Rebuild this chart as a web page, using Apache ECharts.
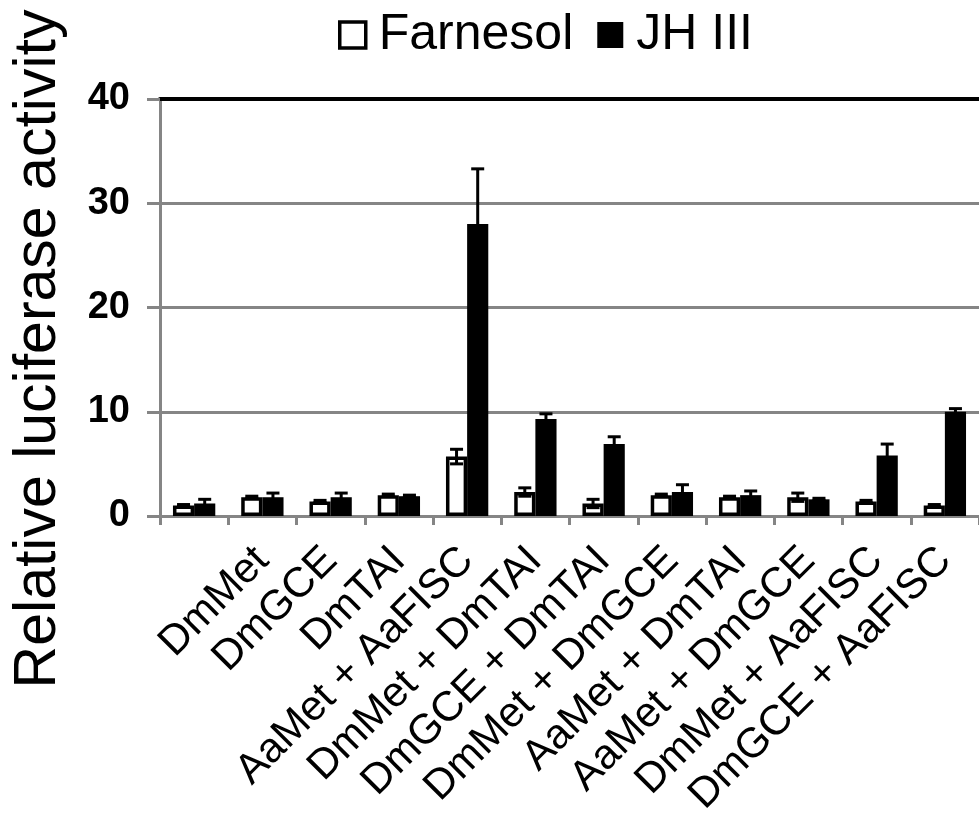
<!DOCTYPE html>
<html>
<head>
<meta charset="utf-8">
<script src="https://cdn.jsdelivr.net/npm/echarts@6/dist/echarts.min.js"></script>
<style>html,body{margin:0;padding:0;background:#fff}#c{width:979px;height:821px}</style>
</head>
<body>
<div id="c"></div>
<script>
const categories = ['', 'DmMet', 'DmGCE', 'DmTAI', 'AaMet + AaFISC', 'DmMet + DmTAI', 'DmGCE + DmTAI', 'DmMet + DmGCE', 'AaMet + DmTAI', 'AaMet + DmGCE', 'DmMet + AaFISC', 'DmGCE + AaFISC'];
const farnesol    = [1.0, 1.8, 1.4, 2.0, 5.7, 2.3, 1.2, 2.0, 1.8, 1.8, 1.4, 1.0];
const farnesolErr = [0.1, 0.1, 0.1, 0.1, 0.7, 0.4, 0.4, 0.1, 0.1, 0.4, 0.1, 0.1];
const jh3         = [1.2, 1.8, 1.8, 1.9, 28.0, 9.3, 6.9, 2.3, 2.0, 1.6, 5.8, 10.0];
const jh3Err      = [0.4, 0.4, 0.4, 0.1, 5.3, 0.5, 0.7, 0.7, 0.4, 0.1, 1.1, 0.3];
const yTicks = [0, 10, 20, 30, 40];

const FONT = 'Liberation Sans, Arial, sans-serif';
const GRAY = '#858585';
const CAT_GAP = 0.38;

function errData(vals, errs) {
  return vals.map((v, i) => [i, v - errs[i], v + errs[i]]);
}
function errRender(side) {
  return function (params, api) {
    const i = api.value(0);
    const lo = api.coord([i, api.value(1)]);
    const hi = api.coord([i, api.value(2)]);
    const band = api.size([1, 0])[0];
    const barW = band * (1 - CAT_GAP) / 2;
    const x = lo[0] + side * barW / 2;
    const cap = 6.5;
    const st = { stroke: '#000', lineWidth: 3 };
    return {
      type: 'group',
      children: [
        { type: 'line', shape: { x1: x, y1: lo[1], x2: x, y2: hi[1] }, style: st },
        { type: 'line', shape: { x1: x - cap, y1: hi[1], x2: x + cap, y2: hi[1] }, style: st },
        { type: 'line', shape: { x1: x - cap, y1: lo[1], x2: x + cap, y2: lo[1] }, style: st }
      ]
    };
  };
}

const chart = echarts.init(document.getElementById('c'), null, { renderer: 'canvas' });
chart.setOption({
  animation: false,
  backgroundColor: '#fff',
  textStyle: { fontFamily: FONT },
  legend: {
    data: [
      { name: 'Farnesol', icon: 'rect', itemStyle: { color: '#fff', borderColor: '#000', borderWidth: 3.5 } },
      { name: 'JH III', icon: 'rect', itemStyle: { color: '#000', borderWidth: 0 } }
    ],
    left: 333, top: 5,
    itemWidth: 26, itemHeight: 26, itemGap: 24,
    textStyle: { fontSize: 50, lineHeight: 50, color: '#000', fontFamily: FONT, padding: [0, 0, 0, 8] }
  },
  graphic: [{
    type: 'text',
    x: 39, y: 349,
    rotation: Math.PI / 2,
    style: {
      text: 'Relative luciferase activity',
      font: '59px ' + FONT,
      fill: '#000',
      textAlign: 'center',
      textVerticalAlign: 'middle'
    }
  }],
  grid: { left: 160, right: -8, top: 99, bottom: 305, containLabel: false },
  xAxis: [{
    type: 'category',
    data: categories,
    axisLine: { lineStyle: { color: GRAY, width: 3 } },
    axisTick: { show: true, length: 9, lineStyle: { color: GRAY, width: 3 } },
    axisLabel: { rotate: 45, interval: 0, margin: 38, fontSize: 42, color: '#000', fontFamily: FONT }
  }, {
    type: 'category',
    data: categories,
    position: 'top',
    axisLine: { lineStyle: { color: '#000', width: 4 } },
    axisTick: { show: false },
    axisLabel: { show: false }
  }],
  yAxis: {
    type: 'value',
    min: 0, max: 40, interval: 10,
    axisLine: { show: true, lineStyle: { color: GRAY, width: 3 } },
    axisTick: { show: true, length: 13, lineStyle: { color: GRAY, width: 3 } },
    splitLine: { show: true, lineStyle: { color: GRAY, width: 3 } },
    axisLabel: {
      fontSize: 38, fontWeight: 'bold', color: '#000', margin: 30, fontFamily: FONT,
      formatter: v => yTicks.includes(v) ? String(v) : ''
    }
  },
  series: [{
    name: 'Farnesol', type: 'bar', data: farnesol,
    barGap: '0%', barCategoryGap: (CAT_GAP * 100) + '%',
    itemStyle: { color: '#fff', borderColor: '#000', borderWidth: 3.5 },
    z: 2
  }, {
    name: 'JH III', type: 'bar', data: jh3,
    itemStyle: { color: '#000', borderColor: '#000', borderWidth: 0 },
    z: 2
  }, {
    type: 'custom', name: 'Farnesol err', renderItem: errRender(-1),
    data: errData(farnesol, farnesolErr), encode: { x: 0, y: [1, 2] }, z: 5
  }, {
    type: 'custom', name: 'JH III err', renderItem: errRender(1),
    data: errData(jh3, jh3Err), encode: { x: 0, y: [1, 2] }, z: 5
  }]
});
</script>
</body>
</html>
